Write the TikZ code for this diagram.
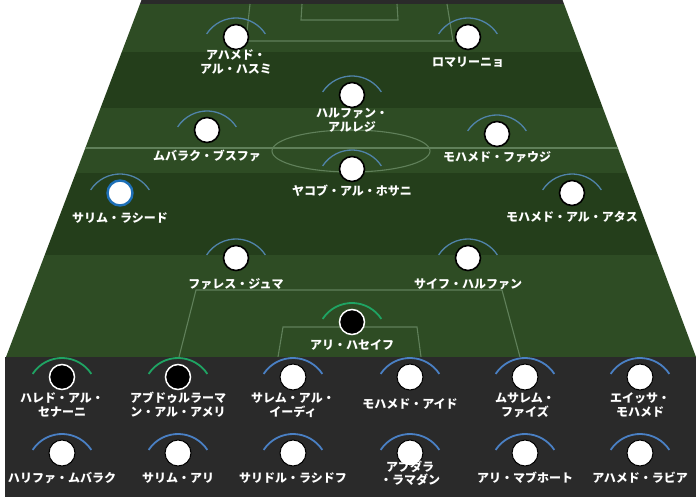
\documentclass[tikz,border=0pt]{standalone}
\usepackage{fontspec}
\setmainfont{Noto Sans CJK JP}
\usetikzlibrary{calc}
\definecolor{benchbg}{HTML}{2A2A2A}
\definecolor{grassA}{HTML}{2E4C24}
\definecolor{grassB}{HTML}{243E1B}
\definecolor{pline}{HTML}{60805A}
\definecolor{arcpitch}{HTML}{5083A8}
\definecolor{arcbench}{HTML}{4A80C4}
\definecolor{arcgk}{HTML}{1FA463}
\definecolor{ringblue}{HTML}{1E70B8}
\newcommand\plarc[2]{\draw[#2] ($(#1.center)+(0,16)$) ++(213:35) arc[start angle=213,end angle=327,radius=35];}
\begin{document}
\begin{tikzpicture}[x=1pt,y=-1pt,
  lbl/.style={text=white,font=\bfseries\fontsize{12}{14}\selectfont,align=center,inner sep=0pt},
  pc/.style={circle,minimum size=25pt,inner sep=0pt,fill=white,draw=black,line width=1.6pt},
  bc/.style={circle,minimum size=26pt,inner sep=0pt,fill=white,draw=black,line width=1pt},
  gk/.style={circle,minimum size=25pt,inner sep=0pt,fill=black,draw=white,line width=1.5pt},
  sel/.style={circle,minimum size=25pt,inner sep=0pt,fill=white,draw=ringblue,line width=2.4pt},
  pa/.style={arcpitch,line width=1.3pt},
  ba/.style={arcbench,line width=1.8pt},
  ga/.style={arcgk,line width=1.8pt},
  pl/.style={pline,line width=1.1pt}]
\useasboundingbox (0,0) rectangle (700,503);
% top strip
\fill[benchbg] (141.5,0) -- (562.5,0) -- (564,4) -- (140,4) -- cycle;
% pitch
\begin{scope}
\clip (140,4) -- (564,4) -- (696,357) -- (6,357) -- cycle;
\fill[grassA] (0,4) rectangle (700,52);
\fill[grassB] (0,52) rectangle (700,108);
\fill[grassA] (0,108) rectangle (700,173);
\fill[grassB] (0,173) rectangle (700,255);
\fill[grassA] (0,255) rectangle (700,357);
\draw[pl] (0,148) -- (700,148);
\draw[pl] (351,151) ellipse [x radius=79, y radius=21];
\draw[pl] (250,4) -- (246,41) -- (453,41) -- (447,4);
\draw[pl] (302,4) -- (301,20) -- (398,20) -- (397,4);
\draw[pl] (179,357) -- (196,290) -- (502,290) -- (520,357);
\draw[pl] (278,357) -- (283,327) -- (417,327) -- (421,357);
\end{scope}
% bench
\fill[benchbg] (5,357) rectangle (696,497);
% pitch players
\node[pc] (p1) at (236,37) {};
\node[pc] (p2) at (468,37) {};
\node[pc] (p3) at (352,95) {};
\node[pc] (p4) at (207,130) {};
\node[pc] (p5) at (497,134) {};
\node[pc] (p6) at (352,169) {};
\node[sel] (p7) at (120,193) {};
\node[pc] (p8) at (572,193) {};
\node[pc] (p9) at (236,258) {};
\node[pc] (p10) at (468,258) {};
\node[gk] (p11) at (352,322) {};
\foreach \n in {p1,p2,p3,p4,p5,p6,p7,p8,p9,p10} {\plarc{\n}{pa}}
\plarc{p11}{ga}
\node[lbl] (l1) at (236,62.5) {アハメド・\\アル・ハスミ};
\node[lbl] (l2) at (468,62) {ロマリーニョ};
\node[lbl] (l3) at (352,120) {ハルファン・\\アルレジ};
\node[lbl] (l4) at (207,155.5) {ムバラク・ブスファ};
\node[lbl] (l5) at (497,157) {モハメド・ファウジ};
\node[lbl] (l6) at (352,191) {ヤコブ・アル・ホサニ};
\node[lbl] (l7) at (120,218) {サリム・ラシード};
\node[lbl] (l8) at (572,216.5) {モハメド・アル・アタス};
\node[lbl] (l9) at (236,284) {ファレス・ジュマ};
\node[lbl] (l10) at (468,284) {サイフ・ハルファン};
\node[lbl] (l11) at (352,345) {アリ・ハセイフ};
% bench row 1
\node[gk] (b1) at (62,377) {};
\node[gk] (b2) at (178,377) {};
\node[bc] (b3) at (293,377) {};
\node[bc] (b4) at (410,377) {};
\node[bc] (b5) at (525,377) {};
\node[bc] (b6) at (640,377) {};
% bench row 2
\node[bc] (b7) at (62,453) {};
\node[bc] (b8) at (178,453) {};
\node[bc] (b9) at (293,453) {};
\node[bc] (b10) at (410,453) {};
\node[bc] (b11) at (525,453) {};
\node[bc] (b12) at (640,453) {};
\plarc{b1}{ga}
\plarc{b2}{ga}
\foreach \n in {b3,b4,b5,b6,b7,b8,b9,b10,b11,b12} {\plarc{\n}{ba}}
\node[lbl] (m1) at (62,405) {ハレド・アル・\\セナーニ};
\node[lbl] (m2) at (178,405) {アブドゥルラーマ\\ン・アル・アメリ};
\node[lbl] (m3) at (293,405) {サレム・アル・\\イーディ};
\node[lbl] (m4) at (410,403.5) {モハメド・アイド};
\node[lbl] (m5) at (525,405) {ムサレム・\\ファイズ};
\node[lbl] (m6) at (640,405) {エイッサ・\\モハメド};
\node[lbl] (m7) at (62,478) {ハリファ・ムバラク};
\node[lbl] (m8) at (178,478) {サリム・アリ};
\node[lbl] (m9) at (293,478) {サリドル・ラシドフ};
\node[lbl,font=\bfseries\fontsize{12}{11}\selectfont] (m10) at (410,473.5) {アブダラ\\・ラマダン};
\node[lbl] (m11) at (525,478) {アリ・マブホート};
\node[lbl] (m12) at (640,478) {アハメド・ラビア};
\end{tikzpicture}
\end{document}
